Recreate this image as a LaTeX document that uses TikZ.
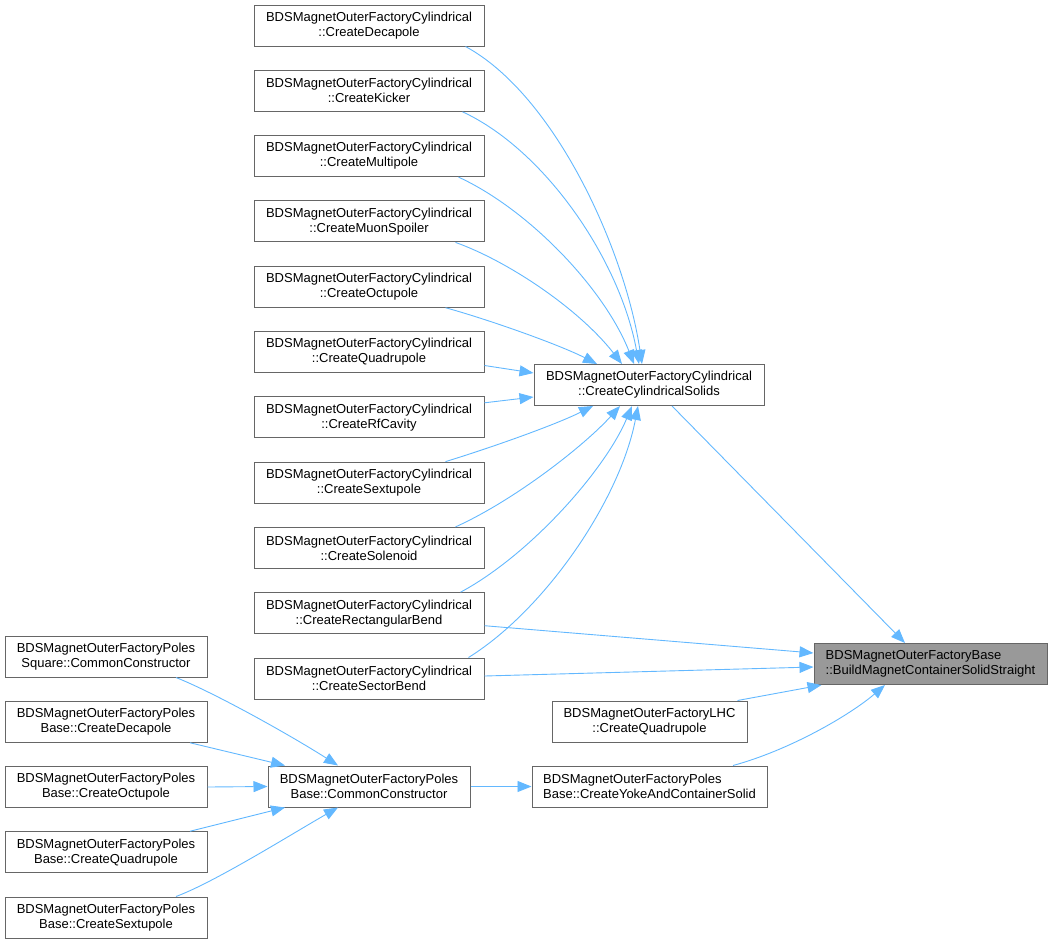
\documentclass[tikz,border=0pt]{standalone}
\usepackage{fontspec}
\setmainfont{Liberation Sans}
\usetikzlibrary{arrows.meta,calc}
\definecolor{edgeblue}{HTML}{63B8FF}
\definecolor{boxgray}{HTML}{666666}
\definecolor{curgray}{HTML}{999999}
\begin{document}
\begin{tikzpicture}[x=1pt, y=-1pt, >={Triangle[length=14pt,width=11pt]},
	fn/.style={draw=boxgray, fill=white, line width=1pt, minimum height=41pt, inner sep=0pt, align=center, font=\fontsize{13}{15}\selectfont},
	cur/.style={fn, fill=curgray},
	call/.style={->, draw=edgeblue, line width=0.9pt}]
			\useasboundingbox (0,0) rectangle (1052,943);
			
			%cylindrical callers
			\foreach \n [count=\i from 0] in {Decapole,Kicker,Multipole,MuonSpoiler,Octupole,Quadrupole,RfCavity,Sextupole,Solenoid,RectangularBend,SectorBend}{
				\node[fn, minimum width=230pt] (cyl\i) at (369, 25.5+65.3*\i) {BDSMagnetOuterFactoryCylindrical\\::Create\n};
			}
			\node[fn, minimum width=230pt] (sol) at (649, 385) {BDSMagnetOuterFactoryCylindrical\\::CreateCylindricalSolids};
			\node[cur, minimum width=233pt, align=left] (bld) at (930.5, 664) {BDSMagnetOuterFactoryBase\\::BuildMagnetContainerSolidStraight};
			\node[fn, minimum width=195pt] (lhc) at (649.5, 721.5) {BDSMagnetOuterFactoryLHC\\::CreateQuadrupole};
			\node[fn, minimum width=235pt, align=left] (yoke) at (649.5, 786.5) {BDSMagnetOuterFactoryPoles\\Base::CreateYokeAndContainerSolid};
			\node[fn, minimum width=202pt] (com) at (369, 786.5) {BDSMagnetOuterFactoryPoles\\Base::CommonConstructor};
			
			%poles callers
			\foreach \n [count=\i from 0] in {Square::CommonConstructor,Base::CreateDecapole,Base::CreateOctupole,Base::CreateQuadrupole,Base::CreateSextupole}{
				\node[fn, minimum width=202pt] (lft\i) at (106, 656.5+65.25*\i) {BDSMagnetOuterFactoryPoles\\\n};
			}
			
			%into cylindrical solids
			\draw[call] ($(cyl0.south east)+(-19,0)$) .. controls (555,95) and (625,250) .. ($(sol.north)+(-7,0)$);
			\draw[call] ($(cyl1.south east)+(-22,0)$) .. controls (545,150) and (620,260) .. ($(sol.north)+(-10,0)$);
			\draw[call] ($(cyl2.south east)+(-26,0)$) .. controls (530,210) and (605,290) .. ($(sol.north)+(-15,0)$);
			\draw[call] ($(cyl3.south east)+(-29,0)$) .. controls (510,262) and (580,310) .. ($(sol.north)+(-27,0)$);
			\draw[call] ($(cyl4.south east)+(-39,0)$) .. controls (490,320) and (560,345) .. ($(sol.north)+(-52,0)$);
			\draw[call] ($(cyl5.east)+(0,13.5)$) -- ($(sol.west)+(0,-12)$);
			\draw[call] ($(cyl6.east)+(0,-14.5)$) -- ($(sol.west)+(0,12)$);
			\draw[call] ($(cyl7.north east)+(-39,0)$) .. controls (490,448) and (555,425) .. ($(sol.south)+(-56,0)$);
			\draw[call] ($(cyl8.north east)+(-29,0)$) .. controls (515,500) and (585,445) .. ($(sol.south)+(-29,0)$);
			\draw[call] ($(cyl9.north east)+(-24,0)$) .. controls (530,555) and (605,470) .. ($(sol.south)+(-17,0)$);
			\draw[call] ($(cyl10.north east)+(-16,0)$) .. controls (545,610) and (620,500) .. ($(sol.south)+(-11,0)$);
			
			%into build
			\draw[call] ($(sol.south)+(23,0)$) -- ($(bld.north)+(-25.5,0)$);
			\draw[call] ($(cyl9.east)+(0,12.5)$) -- ($(bld.west)+(0,-11)$);
			\draw[call] ($(cyl10.east)+(0,-2.5)$) -- ($(bld.west)+(0,3)$);
			\draw[call] ($(lhc.north east)+(-10,0)$) -- ($(bld.south west)+(8,0)$);
			\draw[call] ($(yoke.north)+(83.5,0)$) .. controls (790,750) and (850,715) .. ($(bld.south)+(-45.5,0)$);
			\draw[call] (com.east) -- (yoke.west);
			
			%into common constructor
			\draw[call] ($(lft0.south)+(70,0)$) .. controls (215,693) and (290,735) .. ($(com.north)+(-31,0)$);
			\draw[call] ($(lft1.south)+(84,0)$) -- ($(com.north)+(-84,0)$);
			\draw[call] (lft2.east) -- (com.west);
			\draw[call] ($(lft3.north)+(84,0)$) -- ($(com.south)+(-84,0)$);
			\draw[call] ($(lft4.north)+(70,0)$) .. controls (215,882) and (290,835) .. ($(com.south)+(-31,0)$);
		\end{tikzpicture}
\end{document}
